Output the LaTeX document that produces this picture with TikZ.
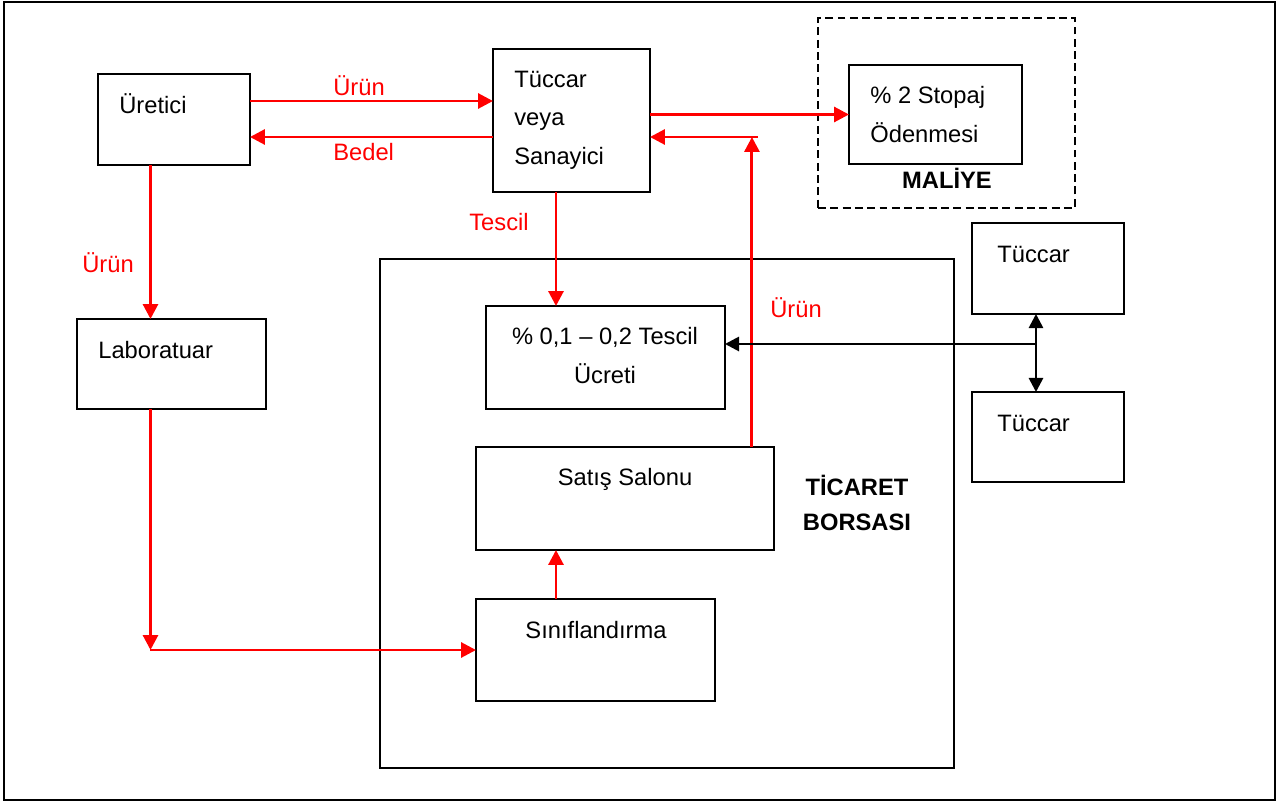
\documentclass[tikz,border=0pt]{standalone}
\usepackage{fontspec}
\setmainfont{Liberation Sans}
\usetikzlibrary{arrows.meta,calc}
\tikzset{
	box/.style={draw, line width=1pt, anchor=north west, inner sep=0pt, outer sep=0pt},
	txt/.style={anchor=base west, inner sep=0pt, align=left, font=\fontsize{13.5}{21.8}\selectfont},
	lbl/.style={txt, red},
	redarr/.style={red, line width=1.7pt, -{Triangle[length=8.5pt,width=8.5pt]}},
	blkarr/.style={black, line width=1.5pt, -{Triangle[length=8pt,width=8pt]}},
}
\begin{document}
\begin{tikzpicture}[x=0.02cm, y=-0.02cm]
	\useasboundingbox (0,0) rectangle (1278,802);
	\draw[line width=1pt] (4,2) rectangle (1275,800);
	\node[box, minimum width=3.04cm, minimum height=1.82cm] (uretici) at (98,74) {};
	\node[box, minimum width=3.14cm, minimum height=2.86cm] (tuccar) at (493,49) {};
	\node[box, dashed, dash pattern=on 4.5pt off 2.5pt, minimum width=5.14cm, minimum height=3.8cm] (maliye) at (818,18) {};
	\node[box, minimum width=3.46cm, minimum height=1.98cm] (stopaj) at (849,65) {};
	\node[box, minimum width=3.04cm, minimum height=1.82cm] (tuccarA) at (972,223) {};
	\node[box, minimum width=3.04cm, minimum height=1.80cm] (tuccarB) at (972,392) {};
	\node[box, minimum width=11.48cm, minimum height=10.18cm] (borsa) at (380,259) {};
	\node[box, minimum width=4.78cm, minimum height=2.06cm] (tescil) at (486,306) {};
	\node[box, minimum width=5.96cm, minimum height=2.06cm] (satis) at (476,447) {};
	\node[box, minimum width=4.78cm, minimum height=2.04cm] (sinif) at (476,599) {};
	\node[box, minimum width=3.78cm, minimum height=1.80cm] (lab) at (77,319) {};

	\node[txt] (tUretici) at (119,113) {Üretici};
	\node[txt] (tTuccar) at (514,164) {Tüccar\\veya\\Sanayici};
	\node[txt] (tStopaj) at (870,142) {\% 2 Stopaj\\Ödenmesi};
	\node[txt, anchor=base, font=\fontsize{13.5}{21.8}\selectfont\bfseries] (tMaliye) at (947,188) {MALİYE};
	\node[txt] (tTuccarA) at (997,262) {Tüccar};
	\node[txt] (tTuccarB) at (997,431) {Tüccar};
	\node[txt, anchor=base, align=center] (tTescil) at (605,383) {\% 0,1 -- 0,2 Tescil\\Ücreti};
	\node[txt, anchor=base] (tSatis) at (625,485) {Satış Salonu};
	\node[txt, anchor=base] (tSinif) at (596,638) {Sınıflandırma};
	\node[txt] (tLab) at (98,358) {Laboratuar};
	\node[txt, anchor=base, align=center, font=\fontsize{13.5}{19.5}\selectfont\bfseries] (tBorsa) at (857,530) {TİCARET\\BORSASI};

	\node[lbl] (lUrun) at (333,95) {Ürün};
	\node[lbl] (lBedel) at (333,160) {Bedel};
	\node[lbl] (lTescil) at (469,230) {Tescil};
	\node[lbl] (lUrunL) at (82,272) {Ürün};
	\node[lbl] (lUrunR) at (770,317) {Ürün};

	\coordinate (pU) at ([yshift=-0.54cm]uretici.north east);
	\coordinate (pB) at ([yshift=-1.26cm]uretici.north east);
	\coordinate (pS) at ([xshift=-0.44cm]satis.north east);
	\coordinate (pD) at ([xshift=-0.31cm]tuccar.south);
	\coordinate (pL) at ([xshift=-0.47cm]uretici.south);
	\coordinate (pV) at ([xshift=-0.24cm]tuccarA.south);
	\coordinate (pH) at ([yshift=0.27cm]tescil.east);

	\draw[redarr] (pU) -- (pU -| tuccar.west);
	\draw[redarr] (pB -| tuccar.west) -- (pB);
	\draw[redarr] (tuccar.east |- stopaj.west) -- (stopaj.west);
	\draw[redarr] (pS) -- (pS |- pB);
	\draw[redarr] ($(pS |- pB)+(6,0)$) -- (pB -| tuccar.east);
	\draw[redarr] (pD) -- (pD |- tescil.north);
	\draw[redarr] (pD |- sinif.north) -- (pD |- satis.south);
	\draw[redarr] (pL) -- (pL |- lab.north);
	\draw[redarr] (pL |- lab.south) -- (pL |- sinif.west);
	\draw[redarr] (pL |- sinif.west) -- (sinif.west);
	\draw[blkarr, {Triangle[length=8pt,width=8pt]}-{Triangle[length=8pt,width=8pt]}] (pV) -- (pV |- tuccarB.north);
	\draw[blkarr] (pV |- pH) -- (pH);
\end{tikzpicture}
\end{document}
